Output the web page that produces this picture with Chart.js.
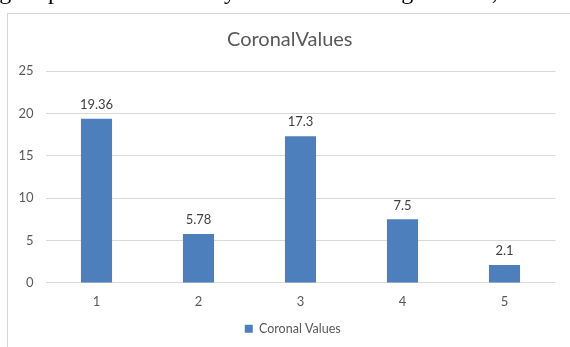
<!DOCTYPE html>
<html>
<head>
<meta charset="utf-8">
<script src="https://cdn.jsdelivr.net/npm/chart.js@4"></script>
<style>
  html, body { margin: 0; padding: 0; background: #ffffff; }
  body { width: 570px; height: 347px; position: relative; overflow: hidden; }
  .prose { position: absolute; top: -21px; font: 24px 'Liberation Serif', serif; line-height: 24px; color: #000; white-space: nowrap; will-change: transform; opacity: 0.99; }
  .frame { position: absolute; left: 7px; top: 13px; width: 600px; height: 400px; border: 1px solid #d6d6d6; box-sizing: border-box; }
  #chart { position: absolute; left: 0; top: 0; }
</style>
</head>
<body>
<!-- last line of the paragraph above the figure -->
<span class="prose" style="right:559px">Using</span>
<span class="prose" style="left:48px">plots</span>
<span class="prose" style="left:212px">by</span>
<span class="prose" style="left:360px">along</span>
<span class="prose" style="left:453px">axis,</span>
<div class="frame"></div>
<canvas id="chart" width="570" height="347"></canvas>
<script>
const categories = ['1', '2', '3', '4', '5'];
const coronalValues = [19.36, 5.78, 17.3, 7.5, 2.1];
const yTickValues = [0, 5, 10, 15, 20, 25];
const seriesName = 'Coronal Values';
const chartTitle = 'CoronalValues';

const barColor = '#4e7fbd';
const gridColor = '#d9d9d9';
const textColor = '#595959';
const fontFamily = "Lato, 'Open Sans', sans-serif";

// writes each bar's value just above it
const valueLabels = {
  id: 'valueLabels',
  afterDatasetsDraw(chart) {
    const ctx = chart.ctx;
    ctx.save();
    ctx.font = '13px ' + fontFamily;
    ctx.fillStyle = '#404040';
    ctx.textAlign = 'center';
    ctx.textBaseline = 'middle';
    chart.data.datasets.forEach((ds, di) => {
      chart.getDatasetMeta(di).data.forEach((bar, i) => {
        ctx.fillText(String(ds.data[i]), bar.x, bar.y - 14);
      });
    });
    ctx.restore();
  }
};

// centre title and legend over the whole frame rather than the plot
const recentre = {
  id: 'recentre',
  afterLayout(chart) {
    if (chart.titleBlock) { chart.titleBlock.left += 12; chart.titleBlock.right += 12; }
    if (chart.legend) { chart.legend.left += 15; chart.legend.right += 15; }
  }
};

new Chart(document.getElementById('chart'), {
  type: 'bar',
  data: {
    labels: categories,
    datasets: [{
      label: seriesName,
      data: coronalValues,
      backgroundColor: barColor,
      borderWidth: 0,
      barPercentage: 0.5,
      categoryPercentage: 0.61
    }]
  },
  options: {
    responsive: false,
    animation: false,
    devicePixelRatio: 1,
    layout: { padding: { left: 0, right: 14.5, top: 28, bottom: 2 } },
    plugins: {
      title: {
        display: true,
        text: chartTitle,
        color: textColor,
        font: { family: fontFamily, size: 20, weight: 'normal' },
        padding: { top: 0, bottom: 19 }
      },
      legend: {
        position: 'bottom',
        labels: {
          boxWidth: 8,
          boxHeight: 8,
          color: textColor,
          font: { family: fontFamily, size: 12.5 },
          padding: 6
        }
      },
      tooltip: { enabled: false }
    },
    scales: {
      x: {
        afterFit(scale) { scale.height = scale.height - 4; },
        grid: { display: false, drawTicks: false },
        border: { display: false },
        ticks: { color: textColor, font: { family: fontFamily, size: 13 }, padding: 11 }
      },
      y: {
        min: 0,
        max: 25,
        afterFit(scale) { scale.width = 45.5; },
        afterBuildTicks(scale) { scale.ticks = yTickValues.map(v => ({ value: v })); },
        grid: { color: gridColor, drawTicks: false, lineWidth: 1 },
        border: { display: false },
        ticks: { color: textColor, font: { family: fontFamily, size: 13 }, padding: 12 }
      }
    }
  },
  plugins: [valueLabels, recentre]
});
</script>
</body>
</html>
